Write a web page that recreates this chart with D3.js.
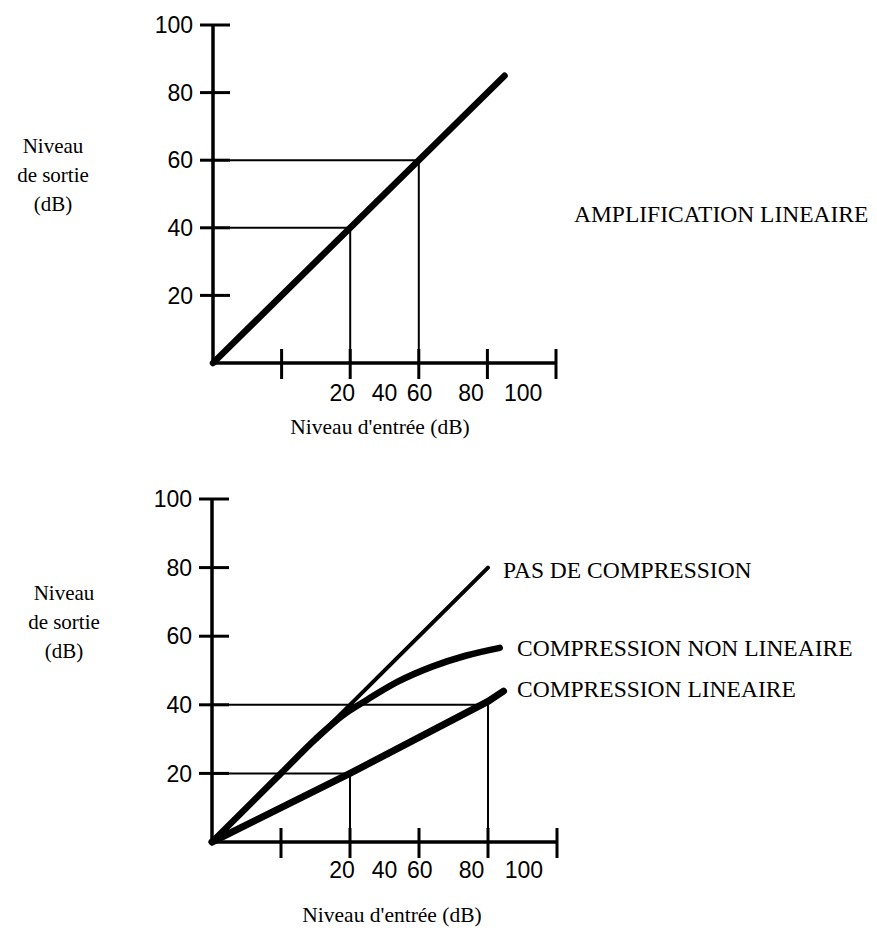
<!DOCTYPE html>
<html>
<head>
<meta charset="utf-8">
<script src="https://cdn.jsdelivr.net/npm/d3@7"></script>
<style>
  html, body { margin: 0; padding: 0; background: #fff; }
  svg { display: block; }
</style>
</head>
<body>
<svg id="chart" width="877" height="932"></svg>
<script>
// ---------- data ----------
const yTicks = [20, 40, 60, 80, 100];
const xTicks = [20, 40, 60, 80, 100];
const xTickLabels = ["20", "40", "60", "80", "100"];
const xTickLabelPos = [37.7, 50, 60.2, 75.2, 90.4];   // where the printed labels sit on the input axis
const yTitleLines = ["Niveau", "de sortie", "(dB)"];
const xTitle = "Niveau d'entrée (dB)";

// top panel : linear amplification
const linearAmplification = [[0, 0], [85, 85]];
const ampGuides = [[40, 40], [60, 60]];
const ampTitle = "AMPLIFICATION LINEAIRE";

// bottom panel : compression
const noCompression = [[0, 0], [80, 80]];
const nonLinearCompression = [[0, 0], [20, 20], [30, 30], [38, 37], [45, 41.5], [54, 46.8], [64, 51.2], [73.5, 54.3], [83.4, 56.6]];
const linearCompression = [[0, 0], [40, 20], [80, 41], [84.5, 44]];
const compGuides = [[40, 20], [80, 40]];
const compLabels = ["PAS DE COMPRESSION", "COMPRESSION NON LINEAIRE", "COMPRESSION LINEAIRE"];

// ---------- drawing ----------
const svg = d3.select("#chart");
const SERIF = "'Liberation Serif', 'Times New Roman', serif";
const SANS = "'Liberation Sans', Arial, sans-serif";

function panel(opt) {
  const x = d3.scaleLinear().domain([0, 100]).range(opt.xRange);
  const y = d3.scaleLinear().domain([0, 100]).range(opt.yRange);
  const g = svg.append("g");

  // guide lines
  opt.guides.forEach(([gx, gy]) => {
    g.append("line").attr("x1", x(0)).attr("x2", x(gx)).attr("y1", y(gy)).attr("y2", y(gy))
      .attr("stroke", "#000").attr("stroke-width", 2);
    g.append("line").attr("x1", x(gx)).attr("x2", x(gx)).attr("y1", y(gy)).attr("y2", y(0))
      .attr("stroke", "#000").attr("stroke-width", 2);
  });

  // y axis
  g.append("line").attr("x1", x(0)).attr("x2", x(0)).attr("y1", y(0)).attr("y2", y(100))
    .attr("stroke", "#000").attr("stroke-width", 3.5);
  g.selectAll(".yt").data(yTicks).join("line")
    .attr("x1", x(0) - 13).attr("x2", x(0) + 17)
    .attr("y1", d => y(d)).attr("y2", d => y(d))
    .attr("stroke", "#000").attr("stroke-width", 3);
  g.selectAll(".yl").data(yTicks).join("text")
    .attr("x", x(0) - 20).attr("y", d => y(d)).attr("dy", "0.36em")
    .attr("text-anchor", "end").attr("font-family", SANS).attr("font-size", 23)
    .text(d => d);

  // x axis
  g.append("line").attr("x1", x(0)).attr("x2", x(100)).attr("y1", y(0)).attr("y2", y(0))
    .attr("stroke", "#000").attr("stroke-width", 3.5);
  g.selectAll(".xt").data(xTicks).join("line")
    .attr("x1", d => x(d)).attr("x2", d => x(d))
    .attr("y1", y(0) - 14).attr("y2", y(0) + 16)
    .attr("stroke", "#000").attr("stroke-width", 3);
  g.selectAll(".xl").data(xTickLabelPos).join("text")
    .attr("x", d => x(d)).attr("y", y(0) + opt.xLabelDy)
    .attr("text-anchor", "middle").attr("font-family", SANS).attr("font-size", 23)
    .text((d, i) => xTickLabels[i]);

  // titles
  g.append("text").attr("x", opt.xTitleX).attr("y", opt.xTitleY)
    .attr("text-anchor", "middle").attr("font-family", SERIF).attr("font-size", 21.5)
    .text(xTitle);
  g.selectAll(".ytl").data(yTitleLines).join("text")
    .attr("x", opt.yTitleX).attr("y", (d, i) => opt.yTitleY + i * 29)
    .attr("text-anchor", "middle").attr("font-family", SERIF).attr("font-size", 21)
    .text(d => d);

  return { g, x, y };
}

const makeLine = (x, y, curve) => d3.line().x(d => x(d[0])).y(d => y(d[1])).curve(curve || d3.curveLinear);

// ---- top panel ----
const topPanel = panel({
  xRange: [213, 556], yRange: [363, 25], guides: ampGuides,
  xLabelDy: 38, xTitleX: 380, xTitleY: 434, yTitleX: 53, yTitleY: 153
});
topPanel.g.append("path").datum(linearAmplification)
  .attr("d", makeLine(topPanel.x, topPanel.y)).attr("fill", "none")
  .attr("stroke", "#000").attr("stroke-width", 6.5).attr("stroke-linecap", "round");
topPanel.g.append("text").attr("x", 574).attr("y", 222)
  .attr("font-family", SERIF).attr("font-size", 23.5).text(ampTitle);

// ---- bottom panel ----
const botPanel = panel({
  xRange: [212, 557], yRange: [842, 499], guides: compGuides,
  xLabelDy: 36, xTitleX: 392, xTitleY: 922, yTitleX: 64, yTitleY: 600
});
botPanel.g.append("path").datum(noCompression)
  .attr("d", makeLine(botPanel.x, botPanel.y)).attr("fill", "none")
  .attr("stroke", "#000").attr("stroke-width", 4).attr("stroke-linecap", "round");
botPanel.g.append("path").datum(nonLinearCompression)
  .attr("d", makeLine(botPanel.x, botPanel.y, d3.curveMonotoneX)).attr("fill", "none")
  .attr("stroke", "#000").attr("stroke-width", 6.5).attr("stroke-linecap", "round");
botPanel.g.append("path").datum(linearCompression)
  .attr("d", makeLine(botPanel.x, botPanel.y)).attr("fill", "none")
  .attr("stroke", "#000").attr("stroke-width", 7).attr("stroke-linecap", "round");

const compLabelPos = [[503, 578], [517, 656], [517, 697]];
botPanel.g.selectAll(".cl").data(compLabels).join("text")
  .attr("x", (d, i) => compLabelPos[i][0]).attr("y", (d, i) => compLabelPos[i][1])
  .attr("font-family", SERIF).attr("font-size", 23.5).text(d => d);
</script>
</body>
</html>
